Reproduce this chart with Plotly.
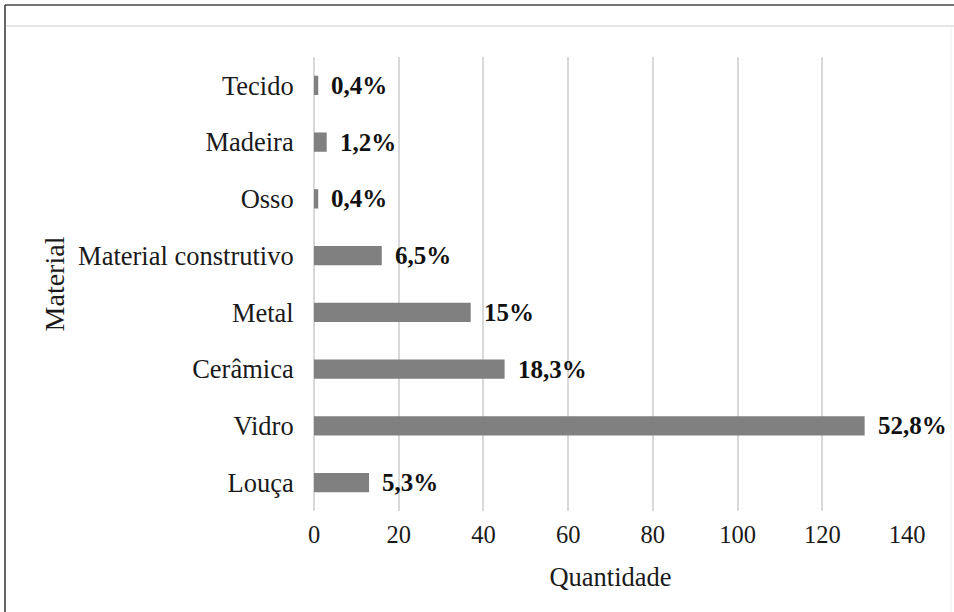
import plotly.graph_objects as go

categories = ["Louça", "Vidro", "Cerâmica", "Metal", "Material construtivo", "Osso", "Madeira", "Tecido"]
quantities = [13, 130, 45, 37, 16, 1, 3, 1]
percent_labels = ["5,3%", "52,8%", "18,3%", "15%", "6,5%", "0,4%", "1,2%", "0,4%"]
x_ticks = [0, 20, 40, 60, 80, 100, 120, 140]

W, H = 954, 612
L, R, T, B = 314, 47, 57, 101
pw, ph = W - L - R, H - T - B

def px_x(p):
    return (p - L) / pw

def px_y(p):
    return (H - B - p) / ph

FONT = "Liberation Serif"

fig = go.Figure()
fig.add_trace(go.Bar(
    y=categories, x=quantities, orientation="h",
    marker=dict(color="#808080", line=dict(width=0)),
    hoverinfo="skip",
))

for c, q, lab in zip(categories, quantities, percent_labels):
    fig.add_annotation(x=q, y=c, text="<b>" + lab + "</b>", showarrow=False,
                       xanchor="left", yanchor="middle", xshift=11,
                       font=dict(family=FONT, size=25, color="#111111"))

# frame lines like the original screenshot
fig.add_shape(type="line", xref="paper", yref="paper", x0=px_x(5), x1=px_x(954), y0=px_y(5), y1=px_y(5),
              line=dict(color="#444444", width=1.5))
fig.add_shape(type="line", xref="paper", yref="paper", x0=px_x(5), x1=px_x(5), y0=px_y(5), y1=px_y(612),
              line=dict(color="#333333", width=1.5))
fig.add_shape(type="line", xref="paper", yref="paper", x0=px_x(6), x1=px_x(954), y0=px_y(26), y1=px_y(26),
              line=dict(color="#e6e6e6", width=2))
fig.add_shape(type="line", xref="paper", yref="paper", x0=px_x(951), x1=px_x(951), y0=px_y(28), y1=px_y(612),
              line=dict(color="#f0f0f0", width=1))

fig.update_layout(
    width=W, height=H,
    margin=dict(l=L, r=R, t=T, b=B),
    paper_bgcolor="white", plot_bgcolor="white",
    showlegend=False,
    bargap=0.66,
    font=dict(family=FONT, size=24, color="#1a1a1a"),
    xaxis=dict(
        range=[0, 140], tickvals=x_ticks, ticktext=[str(v) for v in x_ticks],
        showgrid=True, gridcolor="#d9d9d9", gridwidth=1.5,
        zeroline=True, zerolinecolor="#d9d9d9", zerolinewidth=1.5,
        showline=False, ticks="outside", ticklen=2, tickcolor="rgba(0,0,0,0)",
        tickfont=dict(family=FONT, size=24.5, color="#1a1a1a"),
        title=dict(text="Quantidade", font=dict(family=FONT, size=26.5, color="#1a1a1a"), standoff=20),
        fixedrange=True,
    ),
    yaxis=dict(
        categoryorder="array", categoryarray=categories,
        showgrid=False, showline=False, zeroline=False,
        ticks="outside", ticklen=14, tickcolor="rgba(0,0,0,0)",
        tickfont=dict(family=FONT, size=26.5, color="#1a1a1a"),
        title=dict(text="Material", font=dict(family=FONT, size=28, color="#1a1a1a"), standoff=5),
        fixedrange=True,
    ),
)

fig.write_html("out.html")
